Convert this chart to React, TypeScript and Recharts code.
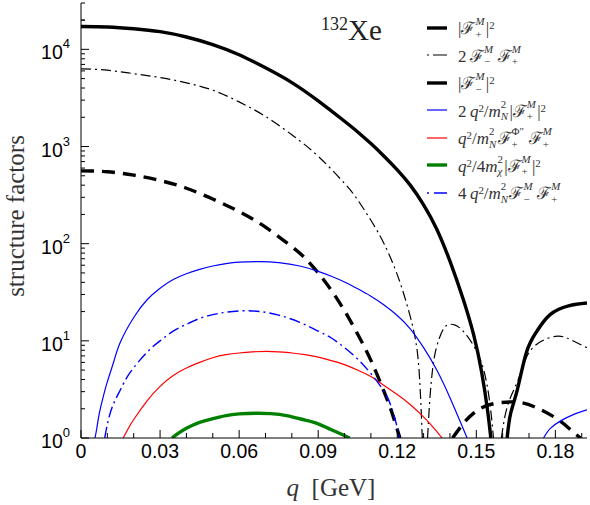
import React from 'react';
import { LineChart, Line, XAxis, YAxis } from 'recharts';

type Pt = [number, number | null];

// |F+^M|^2
const fPlusSq: Pt[] = [
  [0, 17200], [0.01, 17000], [0.02, 16300], [0.03, 15200], [0.04, 13400],
  [0.05, 11200], [0.06, 8800], [0.07, 6450], [0.08, 4550], [0.09, 2950],
  [0.1, 1820], [0.105, 1413], [0.11, 1072], [0.115, 794], [0.12, 575],
  [0.125, 398], [0.13, 251], [0.135, 141], [0.14, 66], [0.145, 26.9],
  [0.149, 11.5], [0.152, 4.8], [0.1543, 1.9], [0.1555, 1], [0.157, null],
  [0.1617, 1], [0.163, 1.78], [0.1656, 3.16], [0.169, 7.6], [0.173, 12.6],
  [0.178, 18.6], [0.185, 22.9], [0.192, 24.5],
];

// 2 F-^M F+^M
const fMinusPlus: Pt[] = [
  [0, 6310], [0.01, 6100], [0.02, 5620], [0.03, 5130], [0.04, 4520],
  [0.05, 3800], [0.06, 2880], [0.07, 2040], [0.08, 1320], [0.09, 794],
  [0.1, 417], [0.105, 282], [0.11, 174], [0.115, 100], [0.12, 48], [0.124, 22],
  [0.127, 10], [0.1285, 4], [0.1295, 1], [0.1305, null],
  [0.1315, 1], [0.1325, 2.8], [0.134, 6.6], [0.136, 10.7], [0.138, 13.8], [0.14, 14.8],
  [0.142, 14.5], [0.145, 12.6], [0.149, 8.9], [0.152, 5.9], [0.154, 3.6], [0.1555, 1.9],
  [0.1565, 1], [0.158, null],
  [0.1595, 1], [0.161, 1.74], [0.163, 2.63], [0.1656, 3.8], [0.168, 5.75], [0.1705, 7.94],
  [0.175, 10], [0.181, 11.2], [0.186, 10.2], [0.192, 8.5],
];

// |F-^M|^2
const fMinusSq: Pt[] = [
  [0, 562], [0.01, 550], [0.02, 507], [0.03, 447], [0.04, 372], [0.05, 288],
  [0.06, 214], [0.07, 148], [0.08, 93], [0.085, 71], [0.09, 50], [0.095, 33],
  [0.1, 20.4], [0.105, 11.7], [0.11, 6.3], [0.115, 3], [0.118, 1.82], [0.121, 1], [0.13, null],
  [0.141, 1], [0.145, 1.4], [0.149, 1.8], [0.155, 2.2], [0.164, 2.35], [0.172, 2.1],
  [0.181, 1.55], [0.186, 1.2], [0.1895, 1],
];

// 2 q^2/m_N^2 |F+^M|^2
const qTermPlus: Pt[] = [
  [0.0053, 1], [0.006, 1.26], [0.007, 1.82], [0.0085, 2.7], [0.01, 3.8], [0.0125, 6.2],
  [0.015, 9.8], [0.02, 17.4], [0.025, 26.3], [0.03, 34.7], [0.035, 42.7], [0.04, 49],
  [0.045, 54.3], [0.05, 58.9], [0.055, 62.4], [0.06, 64.6], [0.068, 65.3], [0.075, 63.8],
  [0.083, 58.9], [0.09, 51.9], [0.095, 46.2], [0.1, 40.3], [0.105, 34.3], [0.11, 28.8],
  [0.115, 23.4], [0.12, 18.2], [0.125, 13.2], [0.13, 8.5], [0.135, 5], [0.14, 2.6],
  [0.144, 1.45], [0.1465, 1], [0.16, null],
  [0.1755, 1], [0.178, 1.25], [0.182, 1.5], [0.187, 1.75], [0.192, 1.95],
];

// q^2/m_N^2 F+^Phi'' F+^M
const qTermPhi: Pt[] = [
  [0.016, 1], [0.018, 1.26], [0.02, 1.55], [0.025, 2.4], [0.03, 3.4], [0.035, 4.4],
  [0.04, 5.25], [0.045, 6], [0.05, 6.7], [0.055, 7.2], [0.06, 7.5], [0.065, 7.7],
  [0.0706, 7.8], [0.075, 7.7], [0.08, 7.5], [0.085, 7.2], [0.09, 6.8], [0.0946, 6.3],
  [0.1, 5.7], [0.105, 5], [0.11, 4.3], [0.1135, 3.7], [0.12, 2.8], [0.125, 2.2],
  [0.1287, 1.78], [0.133, 1.35], [0.137, 1],
];

// q^2/4m_chi^2 |F+^M|^2
const qTermChi: Pt[] = [
  [0.0345, 1], [0.037, 1.12], [0.04, 1.26], [0.045, 1.45], [0.05, 1.58], [0.055, 1.7],
  [0.06, 1.77], [0.0668, 1.8], [0.072, 1.78], [0.078, 1.7], [0.085, 1.53], [0.09, 1.4],
  [0.0946, 1.23], [0.098, 1.12], [0.102, 1],
];

// 4 q^2/m_N^2 F-^M F+^M
const qTermMixed: Pt[] = [
  [0.009, 1], [0.0105, 1.58], [0.0125, 2.3], [0.015, 3.16], [0.0186, 4.7], [0.025, 7.6],
  [0.03, 10], [0.035, 12.6], [0.04, 14.8], [0.045, 17], [0.05, 18.6], [0.055, 19.7],
  [0.0615, 20.4], [0.068, 20], [0.075, 18.4], [0.083, 15.5], [0.09, 12.6], [0.095, 10.7],
  [0.1, 8.5], [0.105, 6.5], [0.11, 4.6], [0.1147, 3.1], [0.118, 2], [0.121, 1],
];

const xTicks = [0, 0.01, 0.02, 0.03, 0.04, 0.05, 0.06, 0.07, 0.08, 0.09, 0.1,
  0.11, 0.12, 0.13, 0.14, 0.15, 0.16, 0.17, 0.18, 0.19];
const xLabelled = [0, 0.03, 0.06, 0.09, 0.12, 0.15, 0.18];
const yDecades = [1, 10, 100, 1000, 10000];
const yTicks = [...yDecades.flatMap(d => [1, 2, 3, 4, 5, 6, 7, 8, 9].map(k => k * d)), 20000];

const X_DOMAIN = [0, 0.192];
const Y_DOMAIN = [1, 30000];

const W = 590;
const H = 505;
const PLOT = { left: 81, right: 587, top: 3, bottom: 438 };

const SANS = '"Liberation Sans", Arial, sans-serif';
const SERIF = '"Liberation Serif", "DejaVu Serif", serif';

const rows = (pts: Pt[]) => pts.map(([q, v]) => ({ q, v }));

const isMajorY = (v: number) => yDecades.includes(v);
const isMajorX = (v: number) => xLabelled.some(t => Math.abs(t - v) < 1e-9);

const LeftTick = ({ x, y, payload }: any) => {
  const v = payload.value;
  const major = isMajorY(v);
  return (
    <g>
      <line x1={x} y1={y} x2={x + (major ? 8 : 4)} y2={y} stroke="#000" />
      {major && (
        <text x={x - 11} y={y + 10} textAnchor="end" fontFamily={SANS} fontSize={19.5} fill="#000">
          10<tspan dy={-11} fontSize={13}>{Math.round(Math.log10(v))}</tspan>
        </text>
      )}
    </g>
  );
};

const RightTick = ({ x, y, payload }: any) => {
  const major = isMajorY(payload.value);
  return <line x1={x} y1={y} x2={x - (major ? 8 : 4)} y2={y} stroke="#000" />;
};

const BottomTick = ({ x, y, payload }: any) => {
  const v = payload.value;
  const major = isMajorX(v);
  return (
    <g>
      <line x1={x} y1={y} x2={x} y2={y - (major ? 8 : 5)} stroke="#000" />
      {major && (
        <text x={x} y={y + 20} textAnchor="middle" fontFamily={SANS} fontSize={19.5} fill="#000">
          {v === 0 ? '0' : v.toFixed(2)}
        </text>
      )}
    </g>
  );
};

const TopTick = ({ x, y, payload }: any) => {
  const major = isMajorX(payload.value);
  return <line x1={x} y1={y} x2={x} y2={y + (major ? 8 : 5)} stroke="#000" />;
};

const YTitle = () => (
  <text
    x={24}
    y={216}
    transform="rotate(-90 24 216)"
    textAnchor="middle"
    fontFamily={SERIF}
    fontSize={25}
    fill="#333"
  >
    structure factors
  </text>
);

const XTitle = () => (
  <text x={331} y={496} textAnchor="middle" fontFamily={SERIF} fontSize={25} fill="#333">
    <tspan fontStyle="italic">q</tspan>
    <tspan>{'\u2002[GeV]'}</tspan>
  </text>
);

// stacked superscript / subscript pair
const S = ({ up, down }: { up: React.ReactNode; down: React.ReactNode }) => (
  <span
    style={{
      display: 'inline-block',
      verticalAlign: '-0.32em',
      lineHeight: 1.15,
      fontSize: '0.64em',
      marginRight: '0.12em',
    }}
  >
    <span style={{ display: 'block' }}>{up}</span>
    <span style={{ display: 'block' }}>{down}</span>
  </span>
);

const Sq = () => <span style={{ fontSize: '0.64em', verticalAlign: '0.5em' }}>2</span>;
const i = (t: string) => <i>{t}</i>;
const F = 'ℱ';
const Fp = () => <>{F}<S up={i('M')} down="+" /></>;
const Fm = () => <>{F}<S up={i('M')} down="−" /></>;
const mN = () => <>{i('m')}<S up="2" down={i('N')} /></>;

type Series = {
  key: string;
  data: Pt[];
  stroke: string;
  width: number;
  dash?: string;
  sampleDash?: string;
  label: React.ReactNode;
};

const series: Series[] = [
  {
    key: 'fPlusSq', data: fPlusSq, stroke: '#000', width: 3.4,
    label: <>|<Fp />|<Sq /></>,
  },
  {
    key: 'fMinusPlus', data: fMinusPlus, stroke: '#000', width: 1.2, dash: '10 4 2 4', sampleDash: '2 4 14 4',
    label: <>2&#8201;<Fm />&#8201;<Fp /></>,
  },
  {
    key: 'fMinusSq', data: fMinusSq, stroke: '#000', width: 3.4, dash: '13 8', sampleDash: '20 0',
    label: <>|<Fm />|<Sq /></>,
  },
  {
    key: 'qTermPlus', data: qTermPlus, stroke: '#0000ff', width: 1.2,
    label: <>2&#8201;{i('q')}<Sq />/{mN()}|<Fp />|<Sq /></>,
  },
  {
    key: 'qTermPhi', data: qTermPhi, stroke: '#ff0000', width: 1.2,
    label: <>{i('q')}<Sq />/{mN()}{F}<S up="Φ″" down="+" />&#8201;<Fp /></>,
  },
  {
    key: 'qTermChi', data: qTermChi, stroke: '#008000', width: 3.4,
    label: <>{i('q')}<Sq />/4{i('m')}<S up="2" down={i('χ')} />|<Fp />|<Sq /></>,
  },
  {
    key: 'qTermMixed', data: qTermMixed, stroke: '#0000ff', width: 1.4, dash: '11 4 2 4', sampleDash: '2 5 14 4',
    label: <>4&#8201;{i('q')}<Sq />/{mN()}<Fm />&#8201;<Fp /></>,
  },
];

const LegendBox = () => (
  <div style={{ position: 'absolute', left: 426, top: 14, fontFamily: SERIF, fontSize: 17, color: '#333' }}>
    {series.map(s => (
      <div key={s.key} style={{ height: 27.5, display: 'flex', alignItems: 'center', whiteSpace: 'nowrap' }}>
        <svg width={22} height={10} style={{ marginRight: 10, flex: 'none' }}>
          <line
            x1={1} y1={5} x2={21} y2={5}
            stroke={s.stroke}
            strokeWidth={s.width}
            strokeDasharray={s.sampleDash}
          />
        </svg>
        <span>{s.label}</span>
      </div>
    ))}
  </div>
);

const Title = () => (
  <div style={{ position: 'absolute', left: 321, top: 14, fontFamily: SERIF, fontSize: 29, color: '#222' }}>
    <span style={{ fontSize: 18, verticalAlign: '0.55em' }}>132</span>Xe
  </div>
);

export default function App() {
  return (
    <div style={{ position: 'absolute', left: 0, top: 0, width: W, height: H, background: '#fff' }}>
      <LineChart
        width={W}
        height={H}
        margin={{ top: PLOT.top, right: W - PLOT.right, bottom: 0, left: 0 }}
      >
        <XAxis
          xAxisId="bottom"
          type="number"
          dataKey="q"
          domain={X_DOMAIN}
          allowDataOverflow
          ticks={xTicks}
          interval={0}
          tick={<BottomTick />}
          tickLine={false}
          tickSize={0}
          tickMargin={0}
          height={H - PLOT.bottom}
          axisLine={{ stroke: '#000' }}
          label={<XTitle />}
        />
        <XAxis
          xAxisId="top"
          orientation="top"
          type="number"
          dataKey="q"
          domain={X_DOMAIN}
          allowDataOverflow
          ticks={xTicks}
          interval={0}
          tick={<TopTick />}
          tickLine={false}
          tickSize={0}
          tickMargin={0}
          height={0}
          axisLine={{ stroke: '#000' }}
        />
        <YAxis
          yAxisId="left"
          type="number"
          scale="log"
          domain={Y_DOMAIN}
          allowDataOverflow
          ticks={yTicks}
          interval={0}
          tick={<LeftTick />}
          tickLine={false}
          tickSize={0}
          tickMargin={0}
          width={PLOT.left}
          axisLine={{ stroke: '#000' }}
          label={<YTitle />}
        />
        <YAxis
          yAxisId="right"
          orientation="right"
          type="number"
          scale="log"
          domain={Y_DOMAIN}
          allowDataOverflow
          ticks={yTicks}
          interval={0}
          tick={<RightTick />}
          tickLine={false}
          tickSize={0}
          tickMargin={0}
          width={0}
          axisLine={{ stroke: '#000' }}
        />
        {series.map(s => (
          <Line
            key={s.key}
            xAxisId="bottom"
            yAxisId="left"
            data={rows(s.data)}
            dataKey="v"
            type="natural"
            stroke={s.stroke}
            strokeWidth={s.width}
            strokeDasharray={s.dash}
            dot={false}
            activeDot={false}
            isAnimationActive={false}
          />
        ))}
      </LineChart>
      <Title />
      <LegendBox />
    </div>
  );
}
